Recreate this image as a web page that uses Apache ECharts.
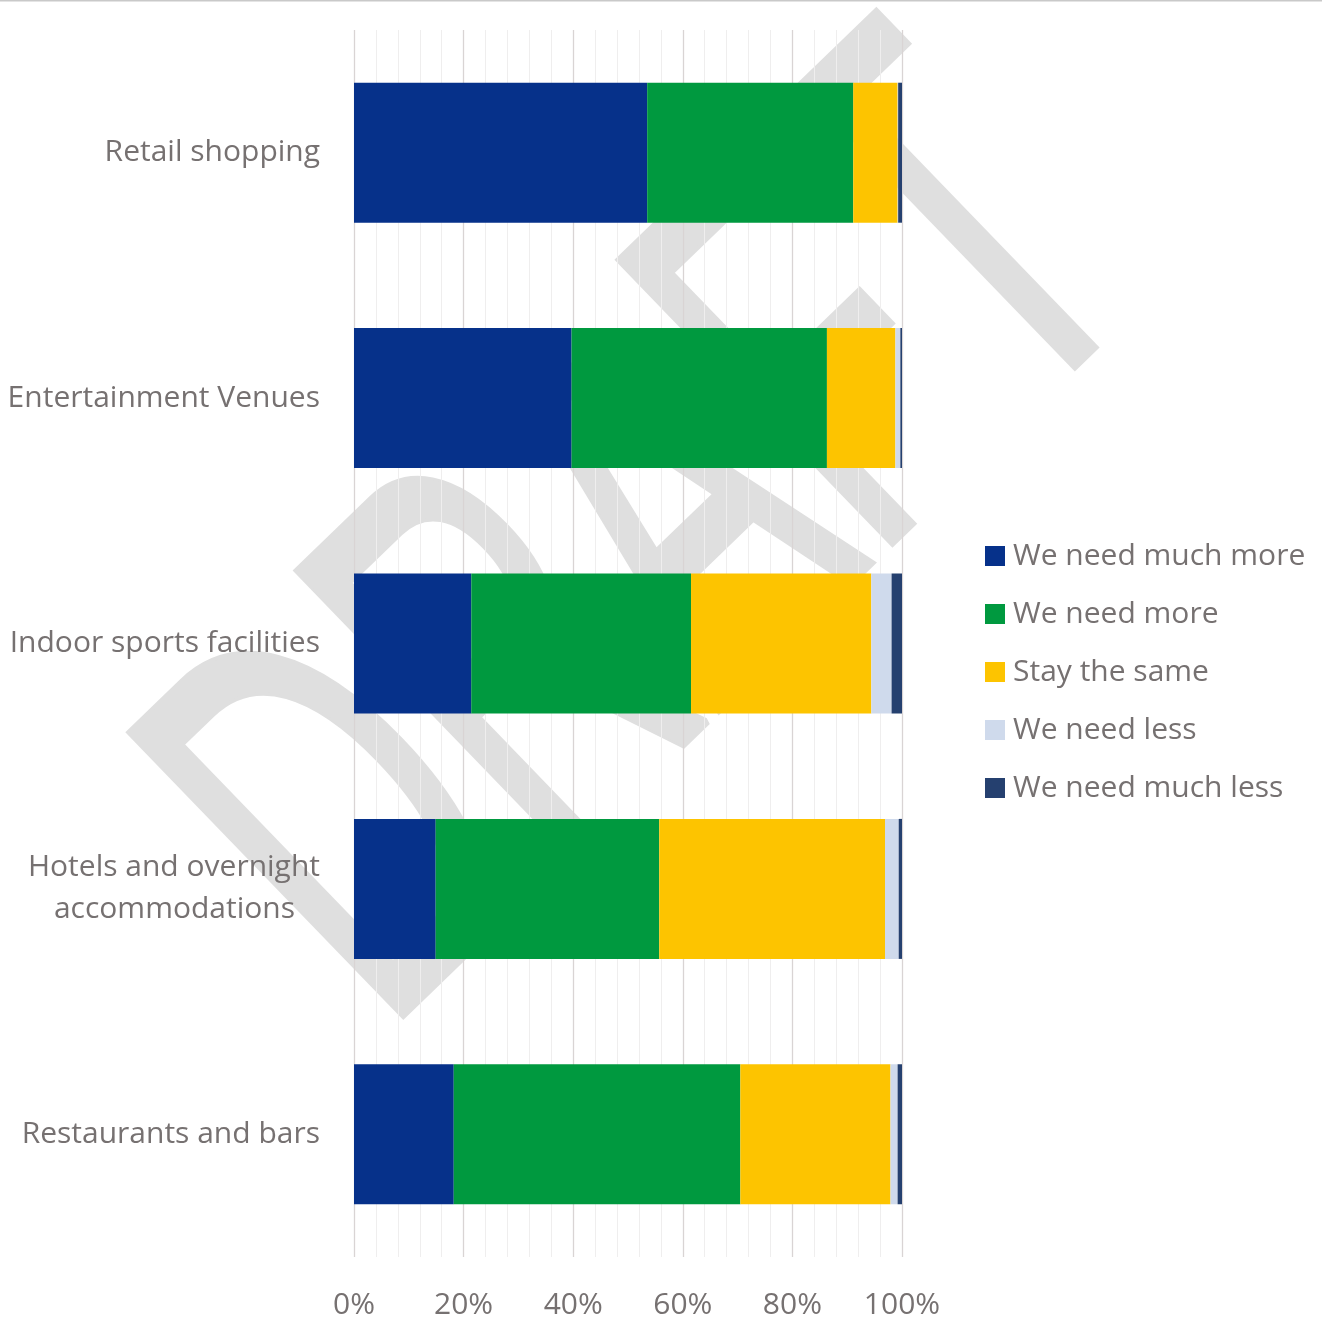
<!DOCTYPE html>
<html>
<head>
<meta charset="utf-8">
<script src="https://cdn.jsdelivr.net/npm/echarts@6/dist/echarts.min.js"></script>
<style>
  html, body { margin: 0; padding: 0; background: #ffffff; }
  #chart { width: 1322px; height: 1321px; }
</style>
</head>
<body>
<div id="chart"></div>
<script>
// Facility categories (top to bottom)
const categories = [
  'Retail shopping',
  'Entertainment Venues',
  'Indoor sports facilities',
  'Hotels and overnight\naccommodations',
  'Restaurants and bars'
];

// Response shares (%) per category
const muchMore = [53.5, 39.7, 21.4, 14.9, 18.2];
const more     = [37.6, 46.6, 40.1, 40.8, 52.3];
const same     = [8.1, 12.5, 32.9, 41.2, 27.4];
const less     = [0.1, 0.9, 3.7, 2.5, 1.3];
const muchLess = [0.7, 0.3, 1.9, 0.6, 0.8];

const seriesNames = ['We need much more', 'We need more', 'Stay the same', 'We need less', 'We need much less'];
const seriesValues = [muchMore, more, same, less, muchLess];
const seriesColors = ['#06318a', '#00993f', '#fdc400', '#cfdaec', '#25406f'];

const xTicks = [0, 20, 40, 60, 80, 100];

const FONT = '"Open Sans", "Noto Sans", sans-serif';
const TEXT_COLOR = '#767171';

const chart = echarts.init(document.getElementById('chart'), null, { renderer: 'canvas' });

chart.setOption({
  backgroundColor: '#ffffff',
  animation: false,
  textStyle: { fontFamily: FONT },
  grid: { left: 354, right: 420, top: 30, bottom: 64, containLabel: false },
  graphic: [
    {
      type: 'rect',
      shape: { x: 0, y: 0, width: 1322, height: 1.5 },
      style: { fill: '#c9c9c9' },
      silent: true
    },
    {
      // diagonal draft watermark behind the plot
      type: 'text',
      x: 660,
      y: 548,
      rotation: 44 * Math.PI / 180,
      scaleX: 0.565,
      scaleY: 1,
      z: -10,
      silent: true,
      style: {
        text: 'DRAFT',
        font: '570px "Liberation Sans", Arial, sans-serif',
        fill: '#dfdfdf',
        stroke: '#dfdfdf',
        lineWidth: 8,
        lineJoin: 'round',
        align: 'center',
        verticalAlign: 'middle'
      }
    }
  ],
  legend: {
    orient: 'vertical',
    left: 985,
    top: 541,
    padding: 0,
    icon: 'rect',
    itemWidth: 20,
    itemHeight: 20,
    itemGap: 28,
    data: seriesNames,
    textStyle: { fontFamily: FONT, fontSize: 30, color: TEXT_COLOR, lineHeight: 30, padding: [0, 0, 0, 3] }
  },
  xAxis: {
    type: 'value',
    min: xTicks[0],
    max: xTicks[xTicks.length - 1],
    interval: 20,
    axisLine: { show: false },
    axisTick: { show: false },
    axisLabel: {
      formatter: '{value}%',
      fontFamily: FONT,
      fontSize: 30,
      color: TEXT_COLOR,
      margin: 33
    },
    splitLine: { show: true, lineStyle: { color: '#d9d4d4', width: 1.3 } },
    minorTick: { show: false, splitNumber: 5 },
    minorSplitLine: { show: true, lineStyle: { color: '#efeeee', width: 1 } }
  },
  yAxis: {
    type: 'category',
    inverse: true,
    data: categories,
    axisLine: { show: false },
    axisTick: { show: false },
    axisLabel: {
      fontFamily: FONT,
      fontSize: 30,
      color: TEXT_COLOR,
      margin: 34,
      lineHeight: 42,
      formatter: function (v) {
        const parts = v.split('\n');
        if (parts.length > 1) {
          return parts[0] + '\n{c|' + parts[1] + '}';
        }
        return v;
      },
      rich: {
        c: { fontFamily: FONT, fontSize: 30, color: TEXT_COLOR, lineHeight: 42, padding: [0, 25, 0, 0] }
      }
    }
  },
  series: seriesNames.map(function (name, i) {
    return {
      name: name,
      type: 'bar',
      stack: 'total',
      barWidth: 140,
      itemStyle: { color: seriesColors[i] },
      data: seriesValues[i]
    };
  })
});
</script>
</body>
</html>
